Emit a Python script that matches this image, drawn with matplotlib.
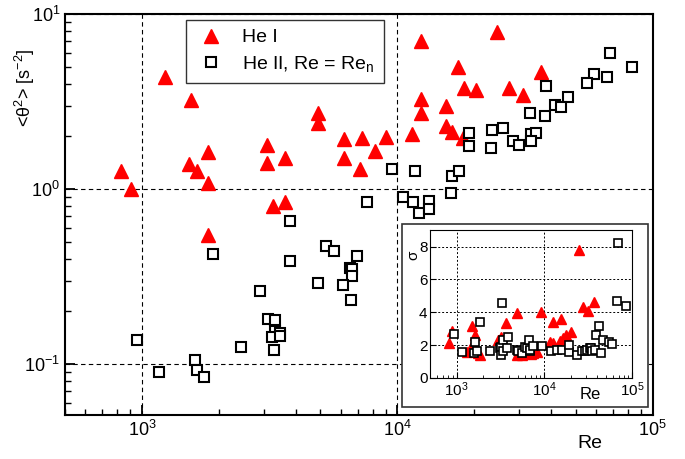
import matplotlib
matplotlib.use('Agg')
import matplotlib.pyplot as plt
from matplotlib.patches import Rectangle
from matplotlib.ticker import NullFormatter, LogLocator

plt.rcParams['font.family'] = ['Liberation Sans', 'DejaVu Sans']
plt.rcParams['mathtext.fontset'] = 'custom'
plt.rcParams['mathtext.rm'] = 'Liberation Sans'
plt.rcParams['mathtext.it'] = 'Liberation Sans:italic'
plt.rcParams['mathtext.default'] = 'regular'

# He I: Re and <theta^2>
he1_re = [1230, 1553, 825, 906, 1531, 1648, 1820, 1820, 1820, 4910, 4910, 3097, 3097,
          3639, 3258, 3639, 6194, 7278, 9058, 8202, 6194, 7166, 12390, 24600, 17300,
          36400, 18200, 20370, 27300, 30970, 12390, 12390, 15450, 15450, 16400, 18100, 11380]
he1_th = [4.37, 3.23, 1.27, 1.00, 1.39, 1.26, 1.62, 1.08, 0.546, 2.73, 2.37, 1.78, 1.41,
          1.50, 0.80, 0.846, 1.92, 1.97, 1.99, 1.65, 1.50, 1.31, 7.04, 7.92, 4.96,
          4.66, 3.76, 3.68, 3.79, 3.44, 3.26, 2.71, 2.98, 2.30, 2.13, 1.97, 2.05]

# He II: Re = Re_n and <theta^2>
he2_re = [9530, 7600, 3785, 1905, 3803, 5250, 5664, 6980, 6500, 6640, 6640, 4886, 6150,
          6580, 2904, 3126, 3325, 3325, 3475, 3228, 3480, 3295, 2438, 953, 1166, 1614,
          1640, 1750, 67750, 83200, 58900, 55460, 66370, 38200, 46560, 41400, 43850,
          33040, 38020, 19050, 19050, 23500, 25880, 23220, 28450, 30060, 33270, 35000,
          33270, 11700, 16440, 17500, 16250, 10520, 11480, 12210, 13300, 13300]
he2_th = [1.30, 0.84, 0.654, 0.427, 0.388, 0.471, 0.444, 0.412, 0.354, 0.348, 0.318, 0.292, 0.282,
          0.233, 0.260, 0.180, 0.178, 0.155, 0.151, 0.143, 0.145, 0.120, 0.1256, 0.138, 0.0897, 0.1054,
          0.0924, 0.0843, 6.01, 5.00, 4.54, 4.05, 4.38, 3.88, 3.34, 3.02, 2.93,
          2.73, 2.61, 2.10, 1.77, 2.17, 2.24, 1.71, 1.89, 1.78, 2.06, 2.10,
          1.89, 1.26, 1.18, 1.26, 0.945, 0.904, 0.846, 0.732, 0.851, 0.766]

# inset: sigma
he1_sig_re = [811, 884, 1300, 1497, 1538, 1621, 1774, 1845, 2990, 3190, 3640, 4830, 4910,
              5500, 6300, 7000, 7480, 8200, 9100, 11700, 12360, 12470, 15140, 15520, 16250,
              17600, 20100, 24800, 27200, 31000, 37000]
he1_sig = [2.13, 2.89, 1.58, 3.18, 2.13, 2.63, 1.52, 1.42, 2.33, 2.49, 3.34, 1.42, 3.95,
           1.40, 1.50, 1.45, 1.52, 1.60, 3.99, 2.20, 3.38, 2.16, 2.23, 3.59, 2.43,
           2.63, 2.83, 7.79, 4.35, 4.05, 4.60]

he2_sig_re = [924, 1150, 1580, 1636, 1725, 1866, 2430, 3120, 3190, 3200, 3270, 3340, 3400,
              3770, 3810, 4830, 5040, 5510, 6000, 6270, 6690, 6840, 6900, 7500, 9500,
              11800, 13900, 15800, 18800, 19200, 23500, 26700, 29200, 30400, 32600, 34000,
              34700, 38000, 38800, 41600, 44000, 46700, 55000, 59200, 66200, 68700, 84000]
he2_sig = [2.69, 1.56, 1.52, 2.21, 1.62, 3.42, 1.62, 1.82, 1.88, 1.42, 4.56, 2.33, 1.62,
           1.82, 2.49, 1.68, 1.62, 1.52, 1.86, 1.82, 2.29, 1.62, 1.72, 1.92, 1.92,
           1.62, 1.68, 1.72, 1.56, 2.02, 1.42, 1.62, 1.62, 1.72, 1.82, 1.82,
           1.62, 1.72, 2.63, 3.18, 1.52, 2.29, 2.20, 2.09, 4.66, 8.20, 4.40]

fig = plt.figure(figsize=(6.85, 4.59), dpi=100)
ax = fig.add_axes([0.0949, 0.0959, 0.858, 0.8736])
ax.set_xscale('log')
ax.set_yscale('log')
ax.set_xlim(500, 1e5)
ax.set_ylim(0.0512, 10)

ax.plot(he1_re, he1_th, ls='none', marker='^', ms=9.5, color='#ff0000', mec='#ff0000',
        label='He I', zorder=3)
ax.plot(he2_re, he2_th, ls='none', marker='s', ms=7, mfc='white', mec='black', mew=1.5,
        label='He II, Re = Re$_n$', zorder=3)

ax.grid(which='major', color='black', ls=(0, (4, 3)), lw=0.8)
ax.yaxis.set_minor_formatter(NullFormatter())
ax.xaxis.set_minor_formatter(NullFormatter())
ax.tick_params(which='both', direction='in', top=False, right=False, labelsize=13)
ax.tick_params(which='major', length=7, width=1.3)
ax.tick_params(which='minor', length=4, width=1.0)
for s in ax.spines.values():
    s.set_linewidth(1.5)

ax.set_ylabel('<θ$^2$> [s$^{-2}$]', fontsize=13)
ax.yaxis.set_label_coords(-0.047, 0.815)
ax.set_xlabel('Re', fontsize=14)
ax.xaxis.set_label_coords(0.893, -0.05)

ax.legend(loc='upper left', bbox_to_anchor=(0.206, 0.985), borderaxespad=0, fontsize=14,
          fancybox=False, edgecolor='#333333', framealpha=1, handletextpad=0.75,
          borderpad=0.45, labelspacing=0.4, handlelength=1.7)

# inset frame and axes
fig.add_artist(Rectangle((0.587, 0.113), 0.359, 0.399, transform=fig.transFigure,
                         facecolor='white', edgecolor='#333333', lw=1.2, zorder=1))
ins = fig.add_axes([0.628, 0.1765, 0.295, 0.322], zorder=2)
ins.set_xscale('log')
ins.set_xlim(500, 1e5)
ins.set_ylim(0, 9)
ins.set_yticks([0, 2, 4, 6, 8])
ins.plot(he1_sig_re, he1_sig, ls='none', marker='^', ms=7.5, color='#ff0000', zorder=3)
ins.plot(he2_sig_re, he2_sig, ls='none', marker='s', ms=5.5, mfc='white', mec='black',
         mew=1.2, zorder=3)
for v in [1e3, 1e4]:
    ins.axvline(v, color='black', ls=(0, (2, 2)), lw=0.7, zorder=1)
for v in [2, 4, 6, 8]:
    ins.axhline(v, color='black', ls=(0, (2, 2)), lw=0.7, zorder=1)
ins.xaxis.set_minor_locator(LogLocator(subs=range(2, 10)))
ins.xaxis.set_minor_formatter(NullFormatter())
ins.tick_params(which='both', direction='in', top=False, right=False, labelsize=11, pad=2)
ins.tick_params(which='major', length=4)
ins.tick_params(which='minor', length=2)
ins.text(0.79, -0.11, 'Re', transform=ins.transAxes, fontsize=12, ha='center', va='center')
ins.text(-0.085, 0.83, 'σ', transform=ins.transAxes, fontsize=11, ha='center', va='center',
         rotation=90)

fig.savefig('out.png', dpi=100)
